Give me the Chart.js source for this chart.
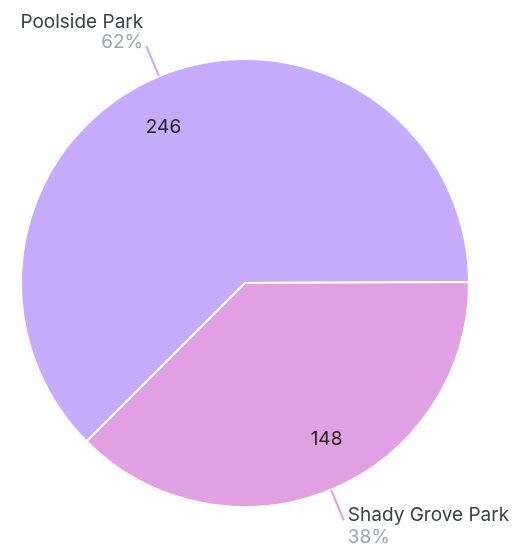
<!DOCTYPE html>
<html>
<head>
<meta charset="utf-8">
<script src="https://cdn.jsdelivr.net/npm/chart.js@4"></script>
<style>
  html, body { margin: 0; padding: 0; background: #fff; }
  #wrap { width: 522px; height: 550px; }
</style>
</head>
<body>
<div id="wrap"><canvas id="pieChart"></canvas></div>
<script>
// data
const parks = ["Poolside Park", "Shady Grove Park"];
const visits = [246, 148];
const sliceColors = ["#c6abfc", "#e1a0e1"];

const FONT = "Inter, 'Noto Sans', sans-serif";

// draws the value inside each slice and the outside label with a leader line
const pieLabels = {
  id: "pieLabels",
  afterDatasetsDraw(chart) {
    const ctx = chart.ctx;
    const meta = chart.getDatasetMeta(0);
    const total = visits.reduce((a, b) => a + b, 0);
    meta.data.forEach((arc, i) => {
      const p = arc.getProps(["x", "y", "startAngle", "endAngle", "outerRadius"], true);
      const mid = (p.startAngle + p.endAngle) / 2;
      const cos = Math.cos(mid), sin = Math.sin(mid);

      // value inside
      const ia = mid - 5 * Math.PI / 180;
      const ir = p.outerRadius * 0.785;
      ctx.save();
      ctx.font = "19px " + FONT;
      ctx.fillStyle = "#222";
      ctx.textAlign = "center";
      ctx.textBaseline = "middle";
      ctx.fillText(visits[i], p.x + Math.cos(ia) * ir, p.y + Math.sin(ia) * ir);

      // leader line
      const x0 = p.x + cos * p.outerRadius, y0 = p.y + sin * p.outerRadius;
      const x1 = p.x + cos * (p.outerRadius + 33), y1 = p.y + sin * (p.outerRadius + 33);
      ctx.strokeStyle = sliceColors[i];
      ctx.lineWidth = 2;
      ctx.beginPath();
      ctx.moveTo(x0, y0);
      ctx.lineTo(x1, y1);
      ctx.stroke();

      // outside label
      const pct = Math.round(visits[i] / total * 100) + "%";
      const right = cos >= 0;
      ctx.textAlign = right ? "left" : "right";
      const tx = right ? x1 + 4 : x1 - 3;
      const ly = sin < 0 ? y1 - 23 : y1 - 5;
      const py = ly + (sin < 0 ? 20 : 22);
      ctx.font = "19px " + FONT;
      ctx.fillStyle = "#3d4048";
      ctx.fillText(parks[i], tx, ly);
      ctx.fillStyle = "#a2a5ae";
      ctx.fillText(pct, tx, py);
      ctx.restore();
    });
  }
};

const pieChart = document.getElementById("pieChart").getContext("2d");
let parkPieChart = new Chart(pieChart, {
  type: "pie",
  data: {
    labels: parks,
    datasets: [{
      data: visits,
      backgroundColor: sliceColors,
      borderColor: "#ffffff",
      borderWidth: 2,
    }],
  },
  options: {
    responsive: true,
    maintainAspectRatio: false,
    animation: false,
    rotation: 225,
    layout: {
      padding: { left: 20, right: 52, top: 58, bottom: 42 },
    },
    plugins: {
      legend: { display: false },
      tooltip: { enabled: false },
    },
  },
  plugins: [pieLabels],
});
</script>
</body>
</html>
